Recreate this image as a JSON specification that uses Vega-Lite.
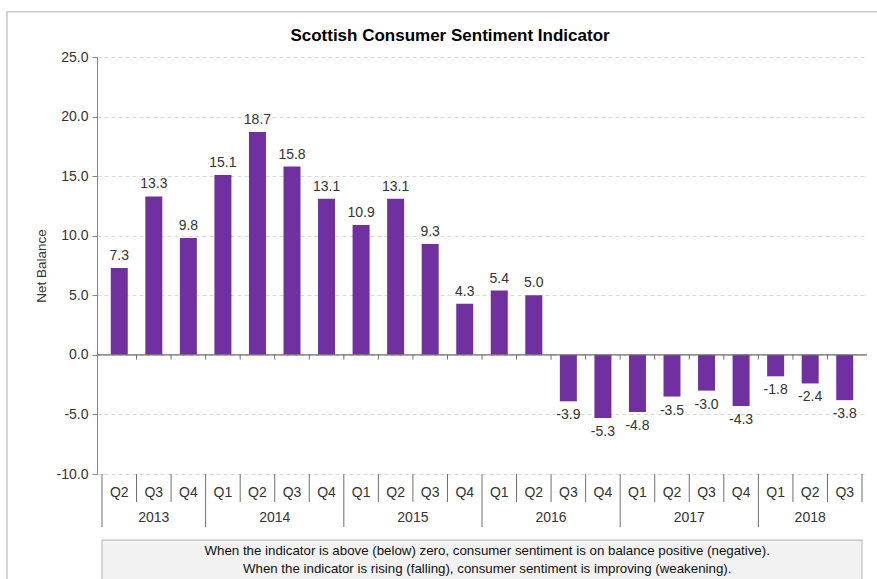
{
  "$schema": "https://vega.github.io/schema/vega-lite/v6.json",
  "autosize": {"type": "none"},
  "width": 770,
  "height": 417,
  "padding": {"left": 97, "top": 57, "right": 10, "bottom": 105},
  "background": "white",
  "config": {
    "view": {"stroke": null},
    "font": "Liberation Sans",
    "locale": {"number": {"decimal": ".", "thousands": ",", "grouping": [3], "currency": ["$", ""], "minus": "-"}}
  },
  "title": {"text": "Scottish Consumer Sentiment Indicator", "fontSize": 17, "font": "Liberation Sans", "fontWeight": "bold", "color": "#000000", "anchor": "middle", "frame": "group", "baseline": "bottom", "dx": -32, "offset": -51, "zindex": 2},
  "datasets": {
    "bars": [
      {"i": 1, "q": "Q2", "year": "2013", "v": 7.3},
      {"i": 2, "q": "Q3", "year": "2013", "v": 13.3},
      {"i": 3, "q": "Q4", "year": "2013", "v": 9.8},
      {"i": 4, "q": "Q1", "year": "2014", "v": 15.1},
      {"i": 5, "q": "Q2", "year": "2014", "v": 18.7},
      {"i": 6, "q": "Q3", "year": "2014", "v": 15.8},
      {"i": 7, "q": "Q4", "year": "2014", "v": 13.1},
      {"i": 8, "q": "Q1", "year": "2015", "v": 10.9},
      {"i": 9, "q": "Q2", "year": "2015", "v": 13.1},
      {"i": 10, "q": "Q3", "year": "2015", "v": 9.3},
      {"i": 11, "q": "Q4", "year": "2015", "v": 4.3},
      {"i": 12, "q": "Q1", "year": "2016", "v": 5.4},
      {"i": 13, "q": "Q2", "year": "2016", "v": 5.0},
      {"i": 14, "q": "Q3", "year": "2016", "v": -3.9},
      {"i": 15, "q": "Q4", "year": "2016", "v": -5.3},
      {"i": 16, "q": "Q1", "year": "2017", "v": -4.8},
      {"i": 17, "q": "Q2", "year": "2017", "v": -3.5},
      {"i": 18, "q": "Q3", "year": "2017", "v": -3.0},
      {"i": 19, "q": "Q4", "year": "2017", "v": -4.3},
      {"i": 20, "q": "Q1", "year": "2018", "v": -1.8},
      {"i": 21, "q": "Q2", "year": "2018", "v": -2.4},
      {"i": 22, "q": "Q3", "year": "2018", "v": -3.8}
    ],
    "years": [
      {"year": "2013", "mid": 2},
      {"year": "2014", "mid": 5.5},
      {"year": "2015", "mid": 9.5},
      {"year": "2016", "mid": 13.5},
      {"year": "2017", "mid": 17.5},
      {"year": "2018", "mid": 21}
    ],
    "seps": [
      {"x": 0.5, "kind": "long"},
      {"x": 1.5, "kind": "short"},
      {"x": 2.5, "kind": "short"},
      {"x": 3.5, "kind": "long"},
      {"x": 4.5, "kind": "short"},
      {"x": 5.5, "kind": "short"},
      {"x": 6.5, "kind": "short"},
      {"x": 7.5, "kind": "long"},
      {"x": 8.5, "kind": "short"},
      {"x": 9.5, "kind": "short"},
      {"x": 10.5, "kind": "short"},
      {"x": 11.5, "kind": "long"},
      {"x": 12.5, "kind": "short"},
      {"x": 13.5, "kind": "short"},
      {"x": 14.5, "kind": "short"},
      {"x": 15.5, "kind": "long"},
      {"x": 16.5, "kind": "short"},
      {"x": 17.5, "kind": "short"},
      {"x": 18.5, "kind": "short"},
      {"x": 19.5, "kind": "long"},
      {"x": 20.5, "kind": "short"},
      {"x": 21.5, "kind": "short"},
      {"x": 22.5, "kind": "short"}
    ],
    "notes": [
      {"line": 1, "text": "When the indicator is above (below) zero, consumer sentiment is on balance positive (negative)."},
      {"line": 2, "text": "When the indicator is rising (falling), consumer sentiment is improving (weakening)."}
    ]
  },
  "layer": [
    {
      "data": {"values": [{}]},
      "mark": {"type": "rect", "fill": "transparent", "stroke": "#c8c8c8", "strokeWidth": 1.5},
      "encoding": {
        "x": {"datum": -2.25, "type": "quantitative", "scale": {"domain": [0.5, 22.5], "nice": false, "zero": false}, "axis": null},
        "x2": {"datum": 23.5},
        "y": {"datum": 28.8, "type": "quantitative"},
        "y2": {"datum": -25}
      }
    },
    {
      "data": {"name": "bars"},
      "mark": {"type": "bar", "width": 17, "color": "#7030A0"},
      "encoding": {
        "x": {"field": "i", "type": "quantitative", "scale": {"domain": [0.5, 22.5], "nice": false, "zero": false}, "axis": null},
        "y": {"field": "v", "type": "quantitative",
          "scale": {"domain": [-10, 25], "nice": false},
          "axis": {"values": [-10, -5, 0, 5, 10, 15, 20, 25], "format": ".1f", "title": "Net Balance",
            "titleFont": "Liberation Sans", "titleFontSize": 13.5, "titleFontWeight": "normal", "titleColor": "#333333", "titlePadding": 8,
            "labelFont": "Liberation Sans", "labelFontSize": 14, "labelColor": "#333333", "labelPadding": 4,
            "grid": true, "gridColor": "#d9d9d9", "gridDash": [4, 3],
            "domainColor": "#868686", "tickColor": "#868686", "tickSize": 5}
        },
        "y2": {"datum": 0}
      }
    },
    {
      "data": {"values": [{}]},
      "mark": {"type": "rule", "color": "#6e6e6e", "strokeWidth": 1.2},
      "encoding": {
        "y": {"datum": 0, "type": "quantitative"}
      }
    },
    {
      "data": {"name": "seps"},
      "transform": [{"filter": "datum.x > 1 && datum.x < 22"}],
      "mark": {"type": "rule", "color": "#6e6e6e", "strokeWidth": 1},
      "encoding": {
        "x": {"field": "x", "type": "quantitative"},
        "y": {"datum": 0, "type": "quantitative"},
        "y2": {"datum": -0.4}
      }
    },
    {
      "data": {"name": "seps"},
      "transform": [{"filter": "datum.kind === 'short'"}],
      "mark": {"type": "rule", "color": "#6e6e6e", "strokeWidth": 1},
      "encoding": {
        "x": {"field": "x", "type": "quantitative"},
        "y": {"datum": -10, "type": "quantitative"},
        "y2": {"datum": -12.35}
      }
    },
    {
      "data": {"name": "seps"},
      "transform": [{"filter": "datum.kind === 'long'"}],
      "mark": {"type": "rule", "color": "#6e6e6e", "strokeWidth": 1},
      "encoding": {
        "x": {"field": "x", "type": "quantitative"},
        "y": {"datum": -10, "type": "quantitative"},
        "y2": {"datum": -14.45}
      }
    },
    {
      "data": {"name": "bars"},
      "transform": [{"filter": "datum.v >= 0"}],
      "mark": {"type": "text", "baseline": "bottom", "dy": -5, "fontSize": 14, "color": "#333333", "font": "Liberation Sans"},
      "encoding": {
        "x": {"field": "i", "type": "quantitative"},
        "y": {"field": "v", "type": "quantitative"},
        "text": {"field": "v", "type": "quantitative", "format": ".1f"}
      }
    },
    {
      "data": {"name": "bars"},
      "transform": [{"filter": "datum.v < 0"}],
      "mark": {"type": "text", "baseline": "top", "dy": 7, "fontSize": 14, "color": "#333333", "font": "Liberation Sans"},
      "encoding": {
        "x": {"field": "i", "type": "quantitative"},
        "y": {"field": "v", "type": "quantitative"},
        "text": {"field": "v", "type": "quantitative", "format": ".1f"}
      }
    },
    {
      "data": {"name": "bars"},
      "mark": {"type": "text", "baseline": "middle", "fontSize": 14, "color": "#333333", "font": "Liberation Sans"},
      "encoding": {
        "x": {"field": "i", "type": "quantitative"},
        "y": {"datum": -11.6, "type": "quantitative"},
        "text": {"field": "q"}
      }
    },
    {
      "data": {"name": "years"},
      "mark": {"type": "text", "baseline": "middle", "fontSize": 14, "color": "#333333", "font": "Liberation Sans"},
      "encoding": {
        "x": {"field": "mid", "type": "quantitative"},
        "y": {"datum": -13.7, "type": "quantitative"},
        "text": {"field": "year"}
      }
    },
    {
      "data": {"values": [{}]},
      "mark": {"type": "rect", "fill": "#f2f2f2", "stroke": "#bfbfbf", "strokeWidth": 1.2},
      "encoding": {
        "x": {"datum": 0.5, "type": "quantitative"},
        "x2": {"datum": 22.5},
        "y": {"datum": -15.55, "type": "quantitative"},
        "y2": {"datum": -20}
      }
    },
    {
      "data": {"name": "notes"},
      "transform": [{"filter": "datum.line === 1"}],
      "mark": {"type": "text", "baseline": "middle", "fontSize": 13.3, "color": "#111111", "font": "Liberation Sans"},
      "encoding": {
        "x": {"datum": 11.65, "type": "quantitative"},
        "y": {"datum": -16.45, "type": "quantitative"},
        "text": {"field": "text"}
      }
    },
    {
      "data": {"name": "notes"},
      "transform": [{"filter": "datum.line === 2"}],
      "mark": {"type": "text", "baseline": "middle", "fontSize": 13.3, "color": "#111111", "font": "Liberation Sans"},
      "encoding": {
        "x": {"datum": 11.65, "type": "quantitative"},
        "y": {"datum": -17.95, "type": "quantitative"},
        "text": {"field": "text"}
      }
    }
  ]
}
